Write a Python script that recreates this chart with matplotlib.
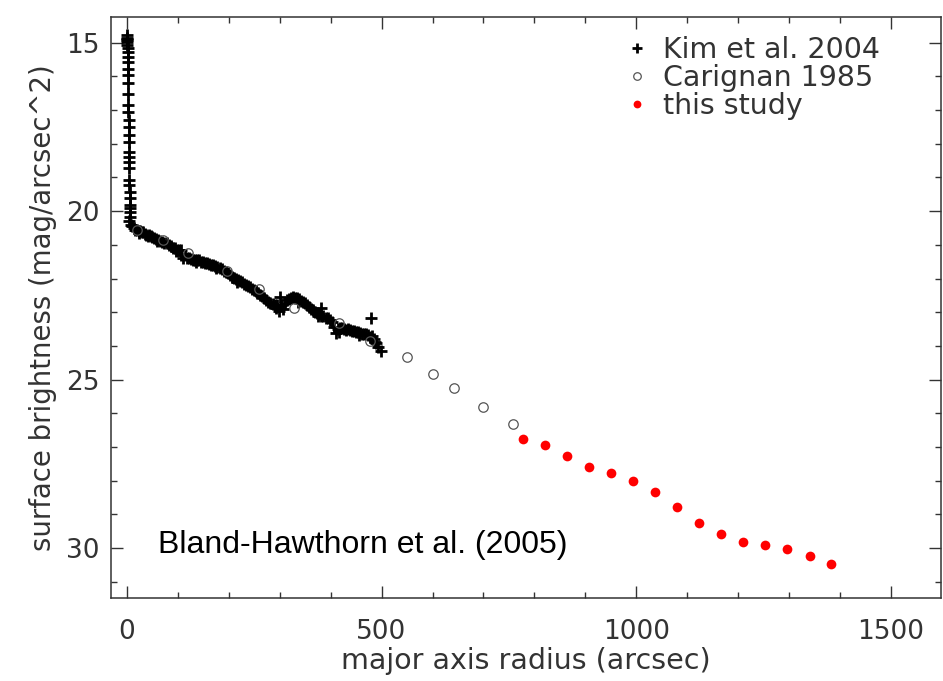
import matplotlib
matplotlib.use("Agg")
import matplotlib.pyplot as plt
from matplotlib.ticker import MultipleLocator

# ---------------- data ----------------
kim_r = [0.3, 0.5, 0.7, 0.9, 1.1, 1.3, 1.5, 1.7, 1.9, 2.1, 2.3, 2.5, 2.7, 2.9, 3.1, 3.3,
         3.5, 3.7, 3.9, 4.1, 4.3, 4.5, 4.7, 4.9, 5.1, 5.3, 5.5, 5.7, 5.9, 6.1, 6.3, 6.5,
         5, 8, 11, 14, 17, 20, 23, 26, 29, 32, 35, 38, 41, 44, 47, 50, 54, 58, 62, 66,
         70, 74, 78, 82, 86, 90, 94, 98, 102, 106, 110, 114, 118, 122, 126, 130, 134,
         138, 142, 146, 150, 154, 158, 162, 166, 170, 174, 178, 182, 186, 190, 194, 198,
         202, 206, 210, 214, 218, 222, 226, 230, 234, 238, 242, 246, 250, 254, 258, 262,
         266, 270, 274, 278, 282, 286, 290, 294, 298, 302, 306, 310, 314, 318, 322, 326,
         330, 334, 338, 342, 346, 350, 354, 358, 362, 366, 370, 374, 378, 382, 386, 390,
         394, 398, 402, 406, 410, 414, 418, 422, 426, 430, 434, 438, 442, 446, 450, 454,
         458, 462, 466, 470, 474, 478, 482, 486, 490, 494, 498,
         300, 382, 479, 107,
         24, 60, 96, 136, 176, 216, 256, 292, 336, 376, 416, 456, 488]
kim_mu = [14.78, 14.85, 14.88, 14.92, 14.98, 15.07, 15.17, 15.27, 15.42, 15.57, 15.77,
          15.96, 16.21, 16.51, 16.85, 17.05, 17.30, 17.50, 17.74, 17.94, 18.24, 18.39,
          18.54, 18.73, 19.08, 19.23, 19.43, 19.62, 19.82, 19.92, 20.02, 20.17,
          20.30, 20.40, 20.45, 20.50, 20.55, 20.55, 20.60, 20.58, 20.63, 20.62, 20.68,
          20.70, 20.74, 20.72, 20.73, 20.76, 20.80, 20.84, 20.86, 20.90, 20.92, 20.94,
          20.95, 21.00, 21.04, 21.08, 21.10, 21.14, 21.16, 21.30, 21.38, 21.30, 21.40,
          21.40, 21.42, 21.44, 21.45, 21.44, 21.46, 21.50, 21.52, 21.54, 21.53, 21.56,
          21.60, 21.60, 21.64, 21.66, 21.70, 21.72, 21.78, 21.80, 21.84, 21.90, 21.94,
          21.98, 22.02, 22.04, 22.08, 22.10, 22.16, 22.18, 22.22, 22.24, 22.30, 22.34,
          22.38, 22.42, 22.48, 22.52, 22.58, 22.64, 22.70, 22.74, 22.76, 22.78, 22.80,
          22.95, 22.80, 22.90, 22.72, 22.65, 22.60, 22.58, 22.55, 22.57, 22.58, 22.62,
          22.66, 22.70, 22.74, 22.78, 22.84, 22.90, 22.94, 22.98, 23.02, 23.06, 23.10,
          23.12, 23.16, 23.18, 23.22, 23.28, 23.45, 23.62, 23.50, 23.48, 23.46, 23.50,
          23.52, 23.50, 23.54, 23.55, 23.56, 23.58, 23.60, 23.62, 23.64, 23.66, 23.66,
          23.68, 23.72, 23.70, 23.80, 23.90, 24.02, 24.15,
          22.54, 22.86, 23.18, 21.16,
          20.66, 20.90, 21.18, 21.52, 21.70, 22.10, 22.44, 22.88, 22.70, 23.12, 23.58,
          23.68, 23.88]

carignan_r = [20, 71, 120, 196, 259, 329, 417, 478, 550, 600, 642, 700, 758]
carignan_mu = [20.55, 20.86, 21.23, 21.77, 22.32, 22.86, 23.33, 23.85, 24.33, 24.84,
               25.25, 25.80, 26.33]

study_r = [778, 821, 864, 908, 951, 994, 1037, 1080, 1124, 1167, 1210, 1253, 1296,
           1340, 1383]
study_mu = [26.77, 26.95, 27.26, 27.60, 27.77, 28.00, 28.34, 28.77, 29.25, 29.58,
            29.82, 29.90, 30.03, 30.23, 30.47]

labels = ["Kim et al. 2004", "Carignan 1985", "this study"]
annotation = "Bland-Hawthorn et al. (2005)"

# ---------------- figure ----------------
txt = "#333333"
plt.rcParams['font.family'] = ['DejaVu Sans']
fig = plt.figure(figsize=(9.43, 6.81), dpi=100)
ax = fig.add_axes([111 / 943, 1 - 597.7 / 681, 830 / 943, 580.7 / 681])

h1, = ax.plot(kim_r, kim_mu, linestyle='none', marker='+', color='black',
              markersize=8.5, markeredgewidth=2.0, label=labels[0], zorder=2)
h2, = ax.plot(carignan_r, carignan_mu, linestyle='none', marker='o',
              markerfacecolor='none', markeredgecolor='#555555', markersize=6.8,
              markeredgewidth=0.9, label=labels[1], zorder=3)
h3, = ax.plot(study_r, study_mu, linestyle='none', marker='o', color='#ff0000',
              markersize=7.0, markeredgewidth=0, label=labels[2], zorder=3)

ax.set_xlim(-31, 1598)
ax.set_ylim(31.47, 14.24)

ax.xaxis.set_major_locator(MultipleLocator(500))
ax.xaxis.set_minor_locator(MultipleLocator(100))
ax.yaxis.set_major_locator(MultipleLocator(5))
ax.yaxis.set_minor_locator(MultipleLocator(1))

ax.tick_params(which='both', direction='in', top=True, right=True,
               color='#333333', width=1.0)
ax.tick_params(which='major', length=8.5)
ax.tick_params(which='minor', length=4)
ax.tick_params(axis='x', which='major', pad=15, labelsize=19, labelcolor=txt)
ax.tick_params(axis='y', which='major', pad=8, labelsize=19, labelcolor=txt)
for s in ax.spines.values():
    s.set_linewidth(1.1)
    s.set_color('#333333')

ax.set_xlabel("major axis radius (arcsec)", fontsize=20.5, color=txt, labelpad=2)
ax.set_ylabel("surface brightness (mag/arcsec^2)", fontsize=19.8, color=txt, labelpad=7)

leg = ax.legend(handles=[h1, h2, h3], loc='upper left',
                bbox_to_anchor=(0.6175, 0.968), frameon=False, fontsize=20.5,
                handlelength=0.95, handletextpad=0.45, borderpad=0, borderaxespad=0,
                labelspacing=0.0, markerscale=0.8)
for t in leg.get_texts():
    t.set_color(txt)

ax.text(0.0566, 0.0907, annotation, transform=ax.transAxes, fontsize=23,
        family=['Liberation Sans', 'DejaVu Sans'], color='black', va='center', ha='left')

fig.savefig("out.png", dpi=100)
